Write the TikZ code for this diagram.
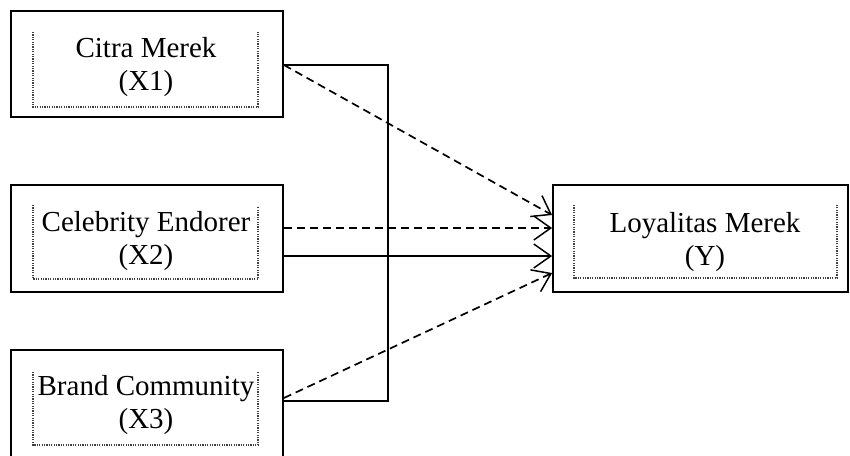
\documentclass[tikz,border=0pt]{standalone}
\usepackage{fontspec}
\setmainfont{Liberation Serif}
\usetikzlibrary{arrows.meta}
\begin{document}
\begin{tikzpicture}[x=1pt,y=-1pt,
  outerbox/.style={draw=black,line width=1.8pt,rectangle,inner sep=0pt},
  lbl/.style={align=center,font=\fontsize{29}{33}\selectfont,inner sep=0pt},
  inner/.style={draw=black!75,line width=1.2pt,dash pattern=on 1.2pt off 1.2pt},
  conn/.style={line width=1.7pt,-{Straight Barb[length=17pt,width=24pt,line width=1.5pt]}},
  dconn/.style={conn,dash pattern=on 8pt off 5pt},
  bracket/.style={line width=1.7pt}]
\clip (0,0) rectangle (850,455);
\useasboundingbox (0,0) rectangle (850,455);
% boxes
\node[outerbox,minimum width=272pt,minimum height=106pt] (X1) at (147,64) {};
\node[outerbox,minimum width=272pt,minimum height=107pt] (X2) at (147,238.5) {};
\node[outerbox,minimum width=272pt,minimum height=110pt] (X3) at (147,405) {};
\node[outerbox,minimum width=295pt,minimum height=107pt] (Y) at (700.5,238.5) {};
% inner dotted frames
\draw[inner] (33,32) -- (33,107) -- (258,107) -- (258,32);
\draw[inner] (33,205) -- (33,279) -- (258,279) -- (258,206);
\draw[inner] (33,372) -- (33,445) -- (258,445) -- (258,372);
\draw[inner] (574,205) -- (574,278) -- (837,278) -- (837,205);
% labels
\node[lbl] (t1) at (146,67) {Citra Merek\\(X1)};
\node[lbl] (t2) at (146,241) {Celebrity Endorer\\(X2)};
\node[lbl] (t3) at (146,405) {Brand Community\\(X3)};
\node[lbl] (ty) at (705,242) {Loyalitas Merek\\(Y)};
% bracket
\coordinate (bar) at (388,230);
\draw[bracket] ([yshift=-1pt]X1.east) -| (bar) |- ([yshift=4pt]X3.east);
% connectors
\draw[dconn] ([yshift=-1pt]X1.east) -- ([yshift=23.5pt]Y.west);
\draw[dconn] ([yshift=10.5pt]X2.east) -- ([yshift=10.5pt]Y.west);
\draw[conn] ([yshift=-17.5pt]X2.east) -- ([yshift=-17.5pt]Y.west);
\draw[dconn] ([yshift=7pt]X3.east) -- ([yshift=-34.5pt]Y.west);
\end{tikzpicture}
\end{document}
